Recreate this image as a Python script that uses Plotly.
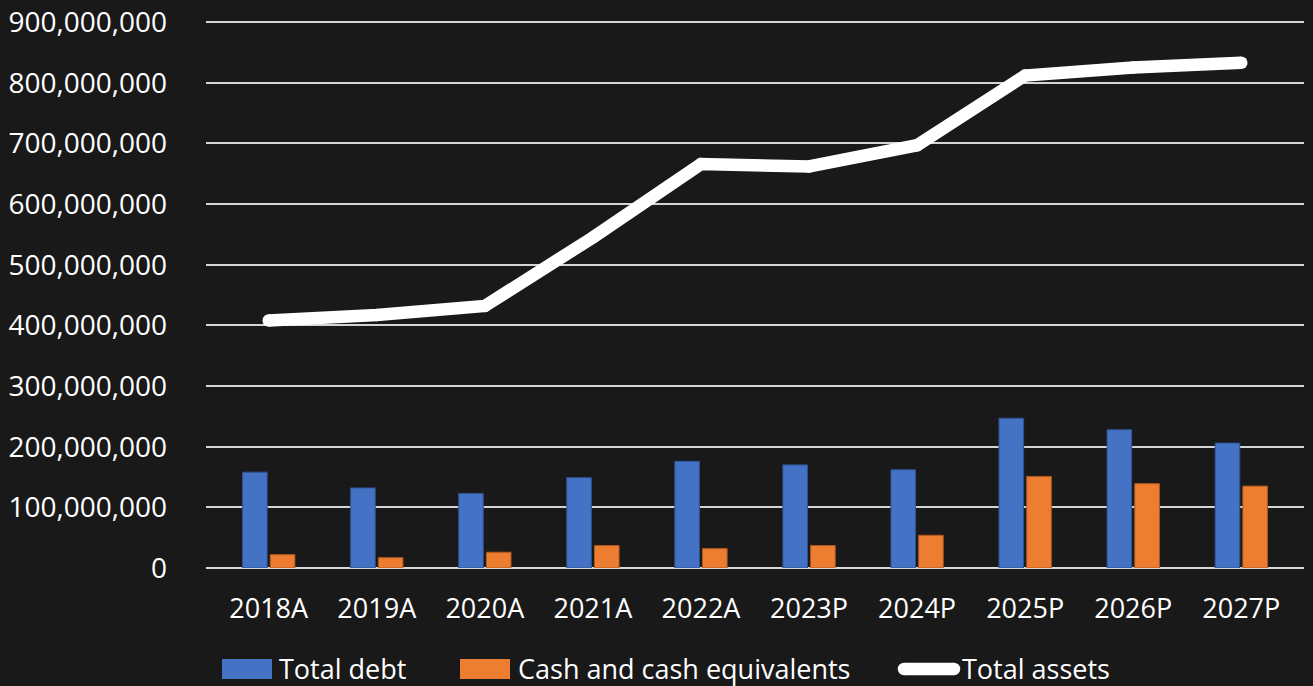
import plotly.graph_objects as go

categories = ["2018A", "2019A", "2020A", "2021A", "2022A", "2023P", "2024P", "2025P", "2026P", "2027P"]
total_debt = [158e6, 132e6, 123e6, 149e6, 176e6, 170e6, 162e6, 247e6, 228e6, 206e6]
cash = [22e6, 17e6, 26e6, 37e6, 32e6, 37e6, 54e6, 151e6, 139e6, 135e6]
total_assets = [408e6, 417e6, 432e6, 545e6, 666e6, 662e6, 697e6, 812e6, 825e6, 833e6]
y_ticks = list(range(0, 900_000_001, 100_000_000))

BG = "#191919"
BLUE = "#4472C4"
ORANGE = "#ED7D31"
FONT = "Open Sans"

W, H = 1313, 686
L, R, T, B = 206, W - 1304, 20, H - 568
Y_MAX = 903_500_000

fig = go.Figure()
fig.add_trace(go.Bar(x=categories, y=total_debt, name="Total debt",
                     marker=dict(color=BLUE, line=dict(color="#2F528F", width=1))))
fig.add_trace(go.Bar(x=categories, y=cash, name="Cash and cash equivalents",
                     marker=dict(color=ORANGE, line=dict(color="#AE5A21", width=1))))
fig.add_trace(go.Scatter(x=categories, y=total_assets, name="Total assets", mode="lines+markers",
                         line=dict(color="white", width=12.5),
                         marker=dict(color="white", size=12.5, line=dict(width=0))))

pw = W - L - R
ph = H - T - B

def px_x(p):
    return (p - L) / pw

def px_y(p):
    return (H - B - p) / ph

shapes = []
annotations = []
legend_items = [
    ("rect", BLUE, 222, 272, "Total debt", 277),
    ("rect", ORANGE, 460, 510, "Cash and cash equivalents", 516),
    ("line", "white", 898, 960, "Total assets", 960),
]
ly = 668
for kind, col, x0, x1, text, tx in legend_items:
    if kind == "rect":
        shapes.append(dict(type="rect", xref="paper", yref="paper",
                           x0=px_x(x0), x1=px_x(x1), y0=px_y(ly + 11), y1=px_y(ly - 9),
                           fillcolor=col, line=dict(width=0)))
    else:
        shapes.append(dict(type="line", xref="paper", yref="paper",
                           x0=px_x(x0 + 6), x1=px_x(x1 - 6), y0=px_y(ly + 1), y1=px_y(ly + 1),
                           line=dict(color=col, width=12.5)))
        for cx in (x0 + 6, x1 - 6):
            shapes.append(dict(type="circle", xref="paper", yref="paper",
                               x0=px_x(cx - 6.25), x1=px_x(cx + 6.25),
                               y0=px_y(ly + 1 + 6.25), y1=px_y(ly + 1 - 6.25),
                               fillcolor=col, line=dict(width=0)))
    annotations.append(dict(text=text, xref="paper", yref="paper", x=px_x(tx), y=px_y(ly),
                            xanchor="left", yanchor="middle", showarrow=False,
                            font=dict(family=FONT, size=27, color="white")))

fig.update_layout(
    width=W, height=H,
    margin=dict(l=L, r=R, t=T, b=B, pad=0),
    paper_bgcolor=BG, plot_bgcolor=BG,
    barmode="group", bargap=0.487, bargroupgap=0.112,
    showlegend=False,
    font=dict(family=FONT, size=27, color="white"),
    shapes=shapes, annotations=annotations,
)
fig.update_xaxes(showgrid=False, showline=False, zeroline=False, ticks="", automargin=False,
                 tickfont=dict(family=FONT, size=27, color="white"),
                 ticklabelstandoff=22)
fig.update_yaxes(range=[0, Y_MAX], tickvals=y_ticks, tickformat=",", automargin=False,
                 showgrid=True, gridcolor="#d4d4d4", gridwidth=1.6,
                 zeroline=True, zerolinecolor="#d9d9d9", zerolinewidth=2.2,
                 showline=False, ticks="",
                 tickfont=dict(family=FONT, size=28, color="white"),
                 ticklabelstandoff=38)

fig.write_html("out.html")
